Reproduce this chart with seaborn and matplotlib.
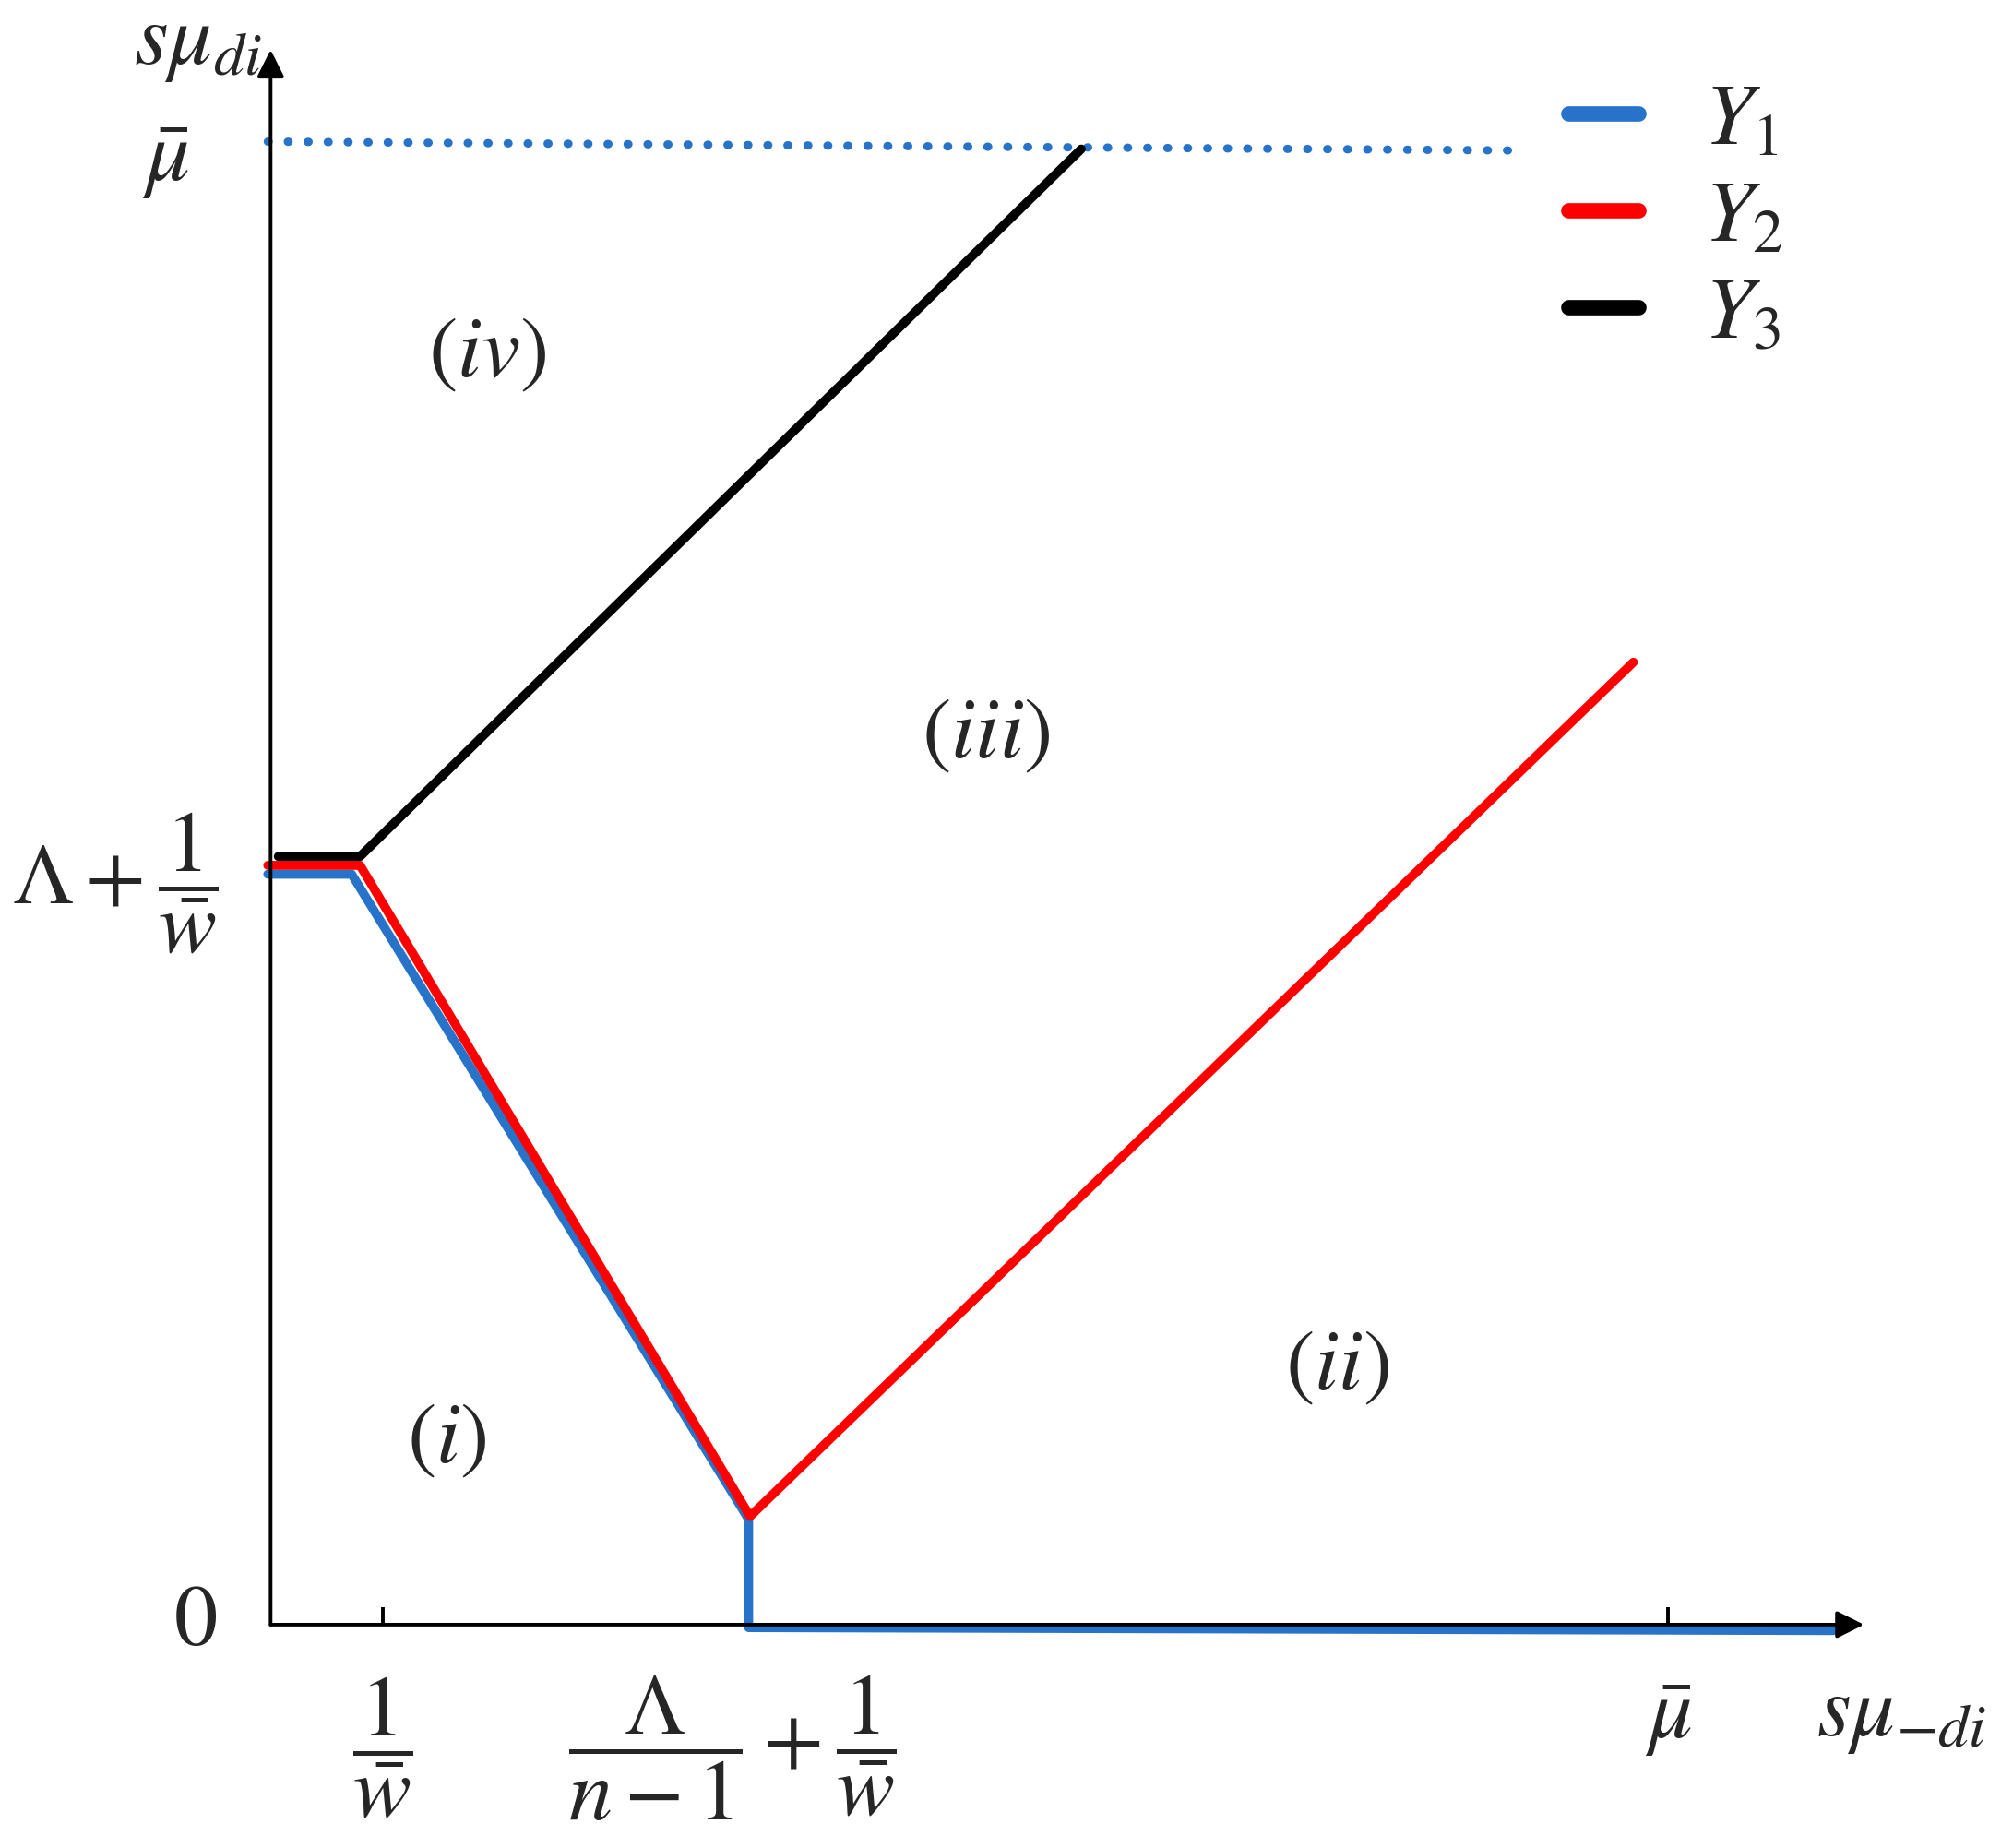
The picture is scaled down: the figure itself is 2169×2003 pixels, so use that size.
import matplotlib
matplotlib.use("Agg")
import pandas as pd
import matplotlib.pyplot as plt
import seaborn as sns

sns.set_style("white")
plt.rcParams["mathtext.fontset"] = "stix"
plt.rcParams["font.family"] = ["STIXGeneral", "DejaVu Serif"]

# --------------------------------------------------
# Data (units: mu_bar = 10 on both axes)
# --------------------------------------------------

y1_x = [-0.02, 0.58, 3.42, 3.42, 11.18]
y1_y = [5.06, 5.06, 0.71, -0.02, -0.04]

y2_x = [-0.02, 0.64, 3.43, 9.75]
y2_y = [5.12, 5.12, 0.73, 6.49]

y3_x = [0.055, 0.64, 5.80]
y3_y = [5.18, 5.18, 9.95]

mu_bar_x = [-0.02, 8.95]
mu_bar_y = [10.0, 9.94]

x_ticks = [0.80, 10.0]

series_names = ["$Y_1$", "$Y_2$", "$Y_3$"]
series_colors = ["#2673c9", "#ff0000", "#000000"]

regions = ["$(iv)$", "$(iii)$", "$(ii)$", "$(i)$"]
region_x = [1.55, 5.12, 7.63, 1.26]
region_y = [8.55, 5.98, 1.72, 1.23]

# --------------------------------------------------
# Figure
# --------------------------------------------------

fig = plt.figure(figsize=(21.69, 20.03), dpi=100)
ax = fig.add_axes([0, 0, 1, 1])
ax.set_xlim(-1.936, 12.38)
ax.set_ylim(-1.506, 10.955)
ax.axis("off")

# axes with arrows
ax.annotate("", xy=(11.40, 0), xytext=(0, 0),
            arrowprops=dict(arrowstyle="-|>", lw=2.8, color="black",
                            mutation_scale=45, shrinkA=0, shrinkB=0))
ax.annotate("", xy=(0, 10.62), xytext=(0, 0),
            arrowprops=dict(arrowstyle="-|>", lw=2.8, color="black",
                            mutation_scale=45, shrinkA=0, shrinkB=0))
ax.vlines(x_ticks, 0, 0.12, color="black", lw=2.8)

# dotted mu_bar line
ax.plot(mu_bar_x, mu_bar_y, color=series_colors[0], lw=6.5,
        linestyle=(0, (0.1, 2.3)), dash_capstyle="round")

# series
for xs, ys, c in [(y1_x, y1_y, series_colors[0]),
                  (y2_x, y2_y, series_colors[1]),
                  (y3_x, y3_y, series_colors[2])]:
    df = pd.DataFrame({"x": xs, "y": ys})
    sns.lineplot(data=df, x="x", y="y", estimator=None, sort=False,
                 color=c, lw=7, ax=ax, solid_capstyle="round",
                 solid_joinstyle="round")

# legend
handles = [plt.Line2D([], [], color=c, lw=12, solid_capstyle="round")
           for c in series_colors]
ax.legend(handles, series_names, loc="upper left",
          bbox_to_anchor=(0.784, 0.955), frameon=False, fontsize=68,
          handlelength=0.8, handletextpad=0.75, labelspacing=0.2,
          borderpad=0, borderaxespad=0)

# axis labels
fs = 68
ax.text(-0.52, 10.65, r"$s\mu_{di}$", fontsize=fs, ha="center", va="center")
ax.text(-0.75, 9.86, r"$\bar{\mu}$", fontsize=fs, ha="center", va="center")
ax.text(-1.11, 5.0, r"$\Lambda + \dfrac{1}{\bar{w}}$", fontsize=fs,
        ha="center", va="center")
ax.text(-0.54, 0.0, "$0$", fontsize=fs, ha="center", va="center")
ax.text(0.80, -0.83, r"$\dfrac{1}{\bar{w}}$", fontsize=fs,
        ha="center", va="center")
ax.text(3.30, -0.83, r"$\dfrac{\Lambda}{n-1} + \dfrac{1}{\bar{w}}$",
        fontsize=fs, ha="center", va="center")
ax.text(10.0, -0.64, r"$\bar{\mu}$", fontsize=fs, ha="center", va="center")
ax.text(11.67, -0.62, r"$s\mu_{-di}$", fontsize=fs, ha="center", va="center")

for r, rx, ry in zip(regions, region_x, region_y):
    ax.text(rx, ry, r, fontsize=68, ha="center", va="center")

plt.savefig("out.png", dpi=100)
plt.close()
